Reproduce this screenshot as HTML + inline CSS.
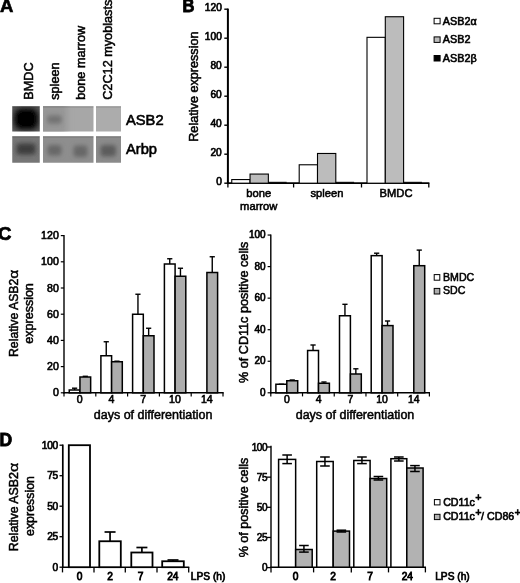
<!DOCTYPE html>
<html><head><meta charset="utf-8"><title>Figure</title>
<style>html,body{margin:0;padding:0;background:#fff}svg{display:block}text{font-family:"Liberation Sans", Arial, sans-serif;fill:#000}</style>
</head><body>
<svg width="520" height="583" viewBox="0 0 520 583">
<defs>
<filter id="b2" x="-50%" y="-50%" width="200%" height="200%"><feGaussianBlur stdDeviation="2.2"/></filter>
<filter id="b3" x="-50%" y="-50%" width="200%" height="200%"><feGaussianBlur stdDeviation="3"/></filter>
<filter id="b1" x="-10%" y="-10%" width="120%" height="120%"><feGaussianBlur stdDeviation="0.5"/></filter>
<clipPath id="c11"><rect x="12.25" y="106.25" width="27.5" height="25.25"/></clipPath>
<clipPath id="c12"><rect x="43" y="106.25" width="50.5" height="25.25"/></clipPath>
<clipPath id="c13"><rect x="96" y="106.25" width="25" height="25.25"/></clipPath>
<clipPath id="c21"><rect x="12.25" y="136.25" width="27.5" height="26.5"/></clipPath>
<clipPath id="c22"><rect x="43" y="136.25" width="50.5" height="26.5"/></clipPath>
<clipPath id="c23"><rect x="96" y="136.25" width="25" height="26.5"/></clipPath>
</defs>
<rect width="520" height="583" fill="#fff"/>

<text x="0" y="12.4" font-size="18.5" text-anchor="start" font-weight="bold" stroke="#000" stroke-width="0.6">A</text>
<text transform="translate(182.6,12.4) scale(0.94,1)" font-size="17.6" font-weight="bold" stroke="#000" stroke-width="0.85">B</text>
<text x="-2" y="240.4" font-size="18.6" text-anchor="start" font-weight="bold" stroke="#000" stroke-width="0.7">C</text>
<text x="-0.6" y="445.6" font-size="17.5" text-anchor="start" font-weight="bold" stroke="#000" stroke-width="0.8">D</text>
<text x="32.9" y="99.8" font-size="12.7" text-anchor="start" stroke="#000" stroke-width="0.5" transform="rotate(-90 32.9 99.8)">BMDC</text>
<text x="58.8" y="99.8" font-size="12.7" text-anchor="start" stroke="#000" stroke-width="0.5" transform="rotate(-90 58.8 99.8)">spleen</text>
<text x="85.3" y="99.8" font-size="12.7" text-anchor="start" stroke="#000" stroke-width="0.5" transform="rotate(-90 85.3 99.8)">bone marrow</text>
<text x="112.4" y="99.8" font-size="12.7" text-anchor="start" stroke="#000" stroke-width="0.5" transform="rotate(-90 112.4 99.8)">C2C12 myoblasts</text>
<g filter="url(#b1)">
<g clip-path="url(#c11)"><rect x="12" y="106" width="28" height="26" fill="#5e5e5e"/><rect x="14.5" y="108.5" width="23.5" height="21" rx="6" fill="#000" filter="url(#b3)"/><rect x="17.5" y="112" width="17" height="14" rx="5" fill="#000" filter="url(#b2)"/></g>
<g clip-path="url(#c12)"><rect x="43" y="106" width="51" height="26" fill="#a7a7a7"/><rect x="38" y="102" width="29" height="34" fill="#969696" filter="url(#b3)"/><rect x="47.5" y="115.5" width="14" height="8" rx="2" fill="#727272" filter="url(#b2)"/></g>
<g clip-path="url(#c13)"><rect x="96" y="106" width="25" height="26" fill="#acacac"/></g>
<g clip-path="url(#c21)"><rect x="12" y="136" width="28" height="27" fill="#767676"/><rect x="16.5" y="143.5" width="19" height="11" rx="3" fill="#3c3c3c" filter="url(#b2)"/></g>
<g clip-path="url(#c22)"><rect x="43" y="136" width="51" height="27" fill="#8e8e8e"/><rect x="47.5" y="145" width="14" height="10.5" rx="3" fill="#686868" filter="url(#b2)"/><rect x="73.5" y="145.5" width="14" height="11.5" rx="3" fill="#686868" filter="url(#b2)"/></g>
<g clip-path="url(#c23)"><rect x="96" y="136" width="25" height="27" fill="#8b8b8b"/><rect x="100.5" y="145" width="15.5" height="11.5" rx="3" fill="#5c5c5c" filter="url(#b2)"/></g>
<rect x="12.25" y="106.25" width="27.5" height="1.2" fill="#000" opacity="0.18"/>
<rect x="12.25" y="136.25" width="27.5" height="1.2" fill="#000" opacity="0.18"/>
<rect x="43" y="106.25" width="50.5" height="1.2" fill="#000" opacity="0.18"/>
<rect x="43" y="136.25" width="50.5" height="1.2" fill="#000" opacity="0.18"/>
<rect x="96" y="106.25" width="25" height="1.2" fill="#000" opacity="0.18"/>
<rect x="96" y="136.25" width="25" height="1.2" fill="#000" opacity="0.18"/>
</g>
<text x="126" y="124.75" font-size="14.7" text-anchor="start" stroke="#000" stroke-width="0.6">ASB2</text>
<text x="126" y="154" font-size="14.7" text-anchor="start" stroke="#000" stroke-width="0.6">Arbp</text>
<line x1="227.9" y1="8.6" x2="227.9" y2="184.1" stroke="#000" stroke-width="2.0"/>
<line x1="226.9" y1="183.2" x2="429.4" y2="183.2" stroke="#000" stroke-width="1.8"/>
<line x1="224.3" y1="183.2" x2="227.9" y2="183.2" stroke="#000" stroke-width="1.4"/>
<text x="221.8" y="185.2" font-size="10.2" text-anchor="end" stroke="#000" stroke-width="0.65">0</text>
<line x1="224.3" y1="154.2" x2="227.9" y2="154.2" stroke="#000" stroke-width="1.4"/>
<text x="221.8" y="156.2" font-size="10.2" text-anchor="end" stroke="#000" stroke-width="0.65">20</text>
<line x1="224.3" y1="125.19999999999999" x2="227.9" y2="125.19999999999999" stroke="#000" stroke-width="1.4"/>
<text x="221.8" y="127.19999999999999" font-size="10.2" text-anchor="end" stroke="#000" stroke-width="0.65">40</text>
<line x1="224.3" y1="96.19999999999999" x2="227.9" y2="96.19999999999999" stroke="#000" stroke-width="1.4"/>
<text x="221.8" y="98.19999999999999" font-size="10.2" text-anchor="end" stroke="#000" stroke-width="0.65">60</text>
<line x1="224.3" y1="67.19999999999999" x2="227.9" y2="67.19999999999999" stroke="#000" stroke-width="1.4"/>
<text x="221.8" y="69.19999999999999" font-size="10.2" text-anchor="end" stroke="#000" stroke-width="0.65">80</text>
<line x1="224.3" y1="38.19999999999999" x2="227.9" y2="38.19999999999999" stroke="#000" stroke-width="1.4"/>
<text x="221.8" y="40.19999999999999" font-size="10.2" text-anchor="end" stroke="#000" stroke-width="0.65">100</text>
<line x1="224.3" y1="9.199999999999989" x2="227.9" y2="9.199999999999989" stroke="#000" stroke-width="1.4"/>
<text x="221.8" y="11.199999999999989" font-size="10.2" text-anchor="end" stroke="#000" stroke-width="0.65">120</text>
<line x1="227.9" y1="183.2" x2="227.9" y2="187.5" stroke="#000" stroke-width="1.3"/>
<line x1="293.6" y1="183.2" x2="293.6" y2="187.5" stroke="#000" stroke-width="1.3"/>
<line x1="361.5" y1="183.2" x2="361.5" y2="187.5" stroke="#000" stroke-width="1.3"/>
<line x1="428.8" y1="183.2" x2="428.8" y2="187.5" stroke="#000" stroke-width="1.3"/>
<text x="198" y="86.6" font-size="12.65" text-anchor="middle" stroke="#000" stroke-width="0.5" transform="rotate(-90 198 86.6)">Relative expression</text>
<rect x="231.75" y="179.57" width="18.30" height="3.62" fill="#fff" stroke="#000" stroke-width="1.1"/>
<rect x="250.05" y="174.06" width="18.30" height="9.13" fill="#bcbcbc" stroke="#000" stroke-width="1.1"/>
<line x1="268.35" y1="182.29999999999998" x2="286.65" y2="182.29999999999998" stroke="#000" stroke-width="1.0"/>
<rect x="299.20" y="164.78" width="18.30" height="18.41" fill="#fff" stroke="#000" stroke-width="1.1"/>
<rect x="317.50" y="153.47" width="18.30" height="29.72" fill="#bcbcbc" stroke="#000" stroke-width="1.1"/>
<line x1="335.8" y1="182.29999999999998" x2="354.1" y2="182.29999999999998" stroke="#000" stroke-width="1.0"/>
<rect x="367.00" y="37.33" width="18.30" height="145.87" fill="#fff" stroke="#000" stroke-width="1.1"/>
<rect x="385.30" y="16.74" width="18.30" height="166.46" fill="#bcbcbc" stroke="#000" stroke-width="1.1"/>
<line x1="403.6" y1="182.29999999999998" x2="421.9" y2="182.29999999999998" stroke="#000" stroke-width="1.0"/>
<text x="258.75" y="197" font-size="11.2" text-anchor="middle" stroke="#000" stroke-width="0.55">bone</text>
<text x="258.75" y="210.2" font-size="11.2" text-anchor="middle" stroke="#000" stroke-width="0.55">marrow</text>
<text x="327" y="196.5" font-size="11.2" text-anchor="middle" stroke="#000" stroke-width="0.55">spleen</text>
<text x="396" y="196.5" font-size="11.2" text-anchor="middle" stroke="#000" stroke-width="0.55">BMDC</text>
<rect x="434.10" y="18.30" width="6.00" height="5.50" fill="#fff" stroke="#000" stroke-width="1.0"/>
<text x="442.8" y="24.5" font-size="10.8" text-anchor="start" stroke="#000" stroke-width="0.6">ASB2α</text>
<rect x="434.10" y="36.90" width="6.00" height="5.50" fill="#bcbcbc" stroke="#000" stroke-width="1.0"/>
<text x="442.8" y="43.10000000000001" font-size="10.8" text-anchor="start" stroke="#000" stroke-width="0.6">ASB2</text>
<rect x="434.10" y="55.50" width="6.00" height="5.50" fill="#000" stroke="#000" stroke-width="1.0"/>
<text x="442.8" y="61.7" font-size="10.8" text-anchor="start" stroke="#000" stroke-width="0.6">ASB2β</text>
<line x1="64.0" y1="235" x2="64.0" y2="393.5" stroke="#000" stroke-width="1.4"/>
<line x1="63.3" y1="392.8" x2="223.7" y2="392.8" stroke="#000" stroke-width="1.5"/>
<line x1="60.8" y1="392.8" x2="64.0" y2="392.8" stroke="#000" stroke-width="1.2"/>
<text x="58.8" y="396.3" font-size="10.6" text-anchor="end" stroke="#000" stroke-width="0.6">0</text>
<line x1="60.8" y1="366.6" x2="64.0" y2="366.6" stroke="#000" stroke-width="1.2"/>
<text x="58.8" y="370.1" font-size="10.6" text-anchor="end" stroke="#000" stroke-width="0.6">20</text>
<line x1="60.8" y1="340.40000000000003" x2="64.0" y2="340.40000000000003" stroke="#000" stroke-width="1.2"/>
<text x="58.8" y="343.90000000000003" font-size="10.6" text-anchor="end" stroke="#000" stroke-width="0.6">40</text>
<line x1="60.8" y1="314.20000000000005" x2="64.0" y2="314.20000000000005" stroke="#000" stroke-width="1.2"/>
<text x="58.8" y="317.70000000000005" font-size="10.6" text-anchor="end" stroke="#000" stroke-width="0.6">60</text>
<line x1="60.8" y1="288.0" x2="64.0" y2="288.0" stroke="#000" stroke-width="1.2"/>
<text x="58.8" y="291.5" font-size="10.6" text-anchor="end" stroke="#000" stroke-width="0.6">80</text>
<line x1="60.8" y1="261.80000000000007" x2="64.0" y2="261.80000000000007" stroke="#000" stroke-width="1.2"/>
<text x="58.8" y="265.30000000000007" font-size="10.6" text-anchor="end" stroke="#000" stroke-width="0.6">100</text>
<line x1="60.8" y1="235.60000000000002" x2="64.0" y2="235.60000000000002" stroke="#000" stroke-width="1.2"/>
<text x="58.8" y="239.10000000000002" font-size="10.6" text-anchor="end" stroke="#000" stroke-width="0.6">120</text>
<line x1="64.0" y1="392.8" x2="64.0" y2="396.40000000000003" stroke="#000" stroke-width="1.2"/>
<line x1="95.8" y1="392.8" x2="95.8" y2="396.40000000000003" stroke="#000" stroke-width="1.2"/>
<line x1="127.6" y1="392.8" x2="127.6" y2="396.40000000000003" stroke="#000" stroke-width="1.2"/>
<line x1="159.4" y1="392.8" x2="159.4" y2="396.40000000000003" stroke="#000" stroke-width="1.2"/>
<line x1="191.2" y1="392.8" x2="191.2" y2="396.40000000000003" stroke="#000" stroke-width="1.2"/>
<line x1="223.0" y1="392.8" x2="223.0" y2="396.40000000000003" stroke="#000" stroke-width="1.2"/>
<text x="79.60000000000001" y="403.2" font-size="10.6" text-anchor="middle" stroke="#000" stroke-width="0.6">0</text>
<text x="111.39999999999999" y="403.2" font-size="10.6" text-anchor="middle" stroke="#000" stroke-width="0.6">4</text>
<text x="143.2" y="403.2" font-size="10.6" text-anchor="middle" stroke="#000" stroke-width="0.6">7</text>
<text x="175.0" y="403.2" font-size="10.6" text-anchor="middle" stroke="#000" stroke-width="0.6">10</text>
<text x="206.79999999999998" y="403.2" font-size="10.6" text-anchor="middle" stroke="#000" stroke-width="0.6">14</text>
<text x="17.8" y="278.7" font-size="12.25" text-anchor="end" stroke="#000" stroke-width="0.5" transform="rotate(-90 17.8 278.7)">Relative ASB2</text>
<text transform="translate(17.8,278.7) rotate(-90) scale(1.27,1)" font-size="12.25" stroke="#000" stroke-width="0.4">α</text>
<text x="33.3" y="313.4" font-size="12.5" text-anchor="middle" stroke="#000" stroke-width="0.5" transform="rotate(-90 33.3 313.4)">expression</text>
<text x="153.1" y="419.2" font-size="12.5" text-anchor="middle" stroke="#000" stroke-width="0.5">days of differentiation</text>
<line x1="74.6" y1="388.2" x2="74.6" y2="390" stroke="#000" stroke-width="1.4"/>
<line x1="72.0" y1="388.2" x2="77.19999999999999" y2="388.2" stroke="#000" stroke-width="1.4"/>
<rect x="69.25" y="390.00" width="10.70" height="2.80" fill="#fff" stroke="#000" stroke-width="1.5"/>
<line x1="85.3" y1="376.3" x2="85.3" y2="377" stroke="#000" stroke-width="1.4"/>
<line x1="82.7" y1="376.3" x2="87.89999999999999" y2="376.3" stroke="#000" stroke-width="1.4"/>
<rect x="79.95" y="377.00" width="10.70" height="15.80" fill="#adadad" stroke="#000" stroke-width="1.5"/>
<line x1="106.25" y1="341.75" x2="106.25" y2="355.75" stroke="#000" stroke-width="1.4"/>
<line x1="103.65" y1="341.75" x2="108.85" y2="341.75" stroke="#000" stroke-width="1.4"/>
<rect x="100.90" y="355.75" width="10.70" height="37.05" fill="#fff" stroke="#000" stroke-width="1.5"/>
<line x1="116.95" y1="361.2" x2="116.95" y2="361.75" stroke="#000" stroke-width="1.4"/>
<line x1="114.35000000000001" y1="361.2" x2="119.55" y2="361.2" stroke="#000" stroke-width="1.4"/>
<rect x="111.60" y="361.75" width="10.70" height="31.05" fill="#adadad" stroke="#000" stroke-width="1.5"/>
<line x1="137.95" y1="294.25" x2="137.95" y2="314.25" stroke="#000" stroke-width="1.4"/>
<line x1="135.35" y1="294.25" x2="140.54999999999998" y2="294.25" stroke="#000" stroke-width="1.4"/>
<rect x="132.60" y="314.25" width="10.70" height="78.55" fill="#fff" stroke="#000" stroke-width="1.5"/>
<line x1="148.64999999999998" y1="328.25" x2="148.64999999999998" y2="335.75" stroke="#000" stroke-width="1.4"/>
<line x1="146.04999999999998" y1="328.25" x2="151.24999999999997" y2="328.25" stroke="#000" stroke-width="1.4"/>
<rect x="143.30" y="335.75" width="10.70" height="57.05" fill="#adadad" stroke="#000" stroke-width="1.5"/>
<line x1="169.75" y1="258.75" x2="169.75" y2="264" stroke="#000" stroke-width="1.4"/>
<line x1="167.15" y1="258.75" x2="172.35" y2="258.75" stroke="#000" stroke-width="1.4"/>
<rect x="164.40" y="264.00" width="10.70" height="128.80" fill="#fff" stroke="#000" stroke-width="1.5"/>
<line x1="180.45" y1="268.25" x2="180.45" y2="276.25" stroke="#000" stroke-width="1.4"/>
<line x1="177.85" y1="268.25" x2="183.04999999999998" y2="268.25" stroke="#000" stroke-width="1.4"/>
<rect x="175.10" y="276.25" width="10.70" height="116.55" fill="#adadad" stroke="#000" stroke-width="1.5"/>
<line x1="212.25" y1="256.75" x2="212.25" y2="272.5" stroke="#000" stroke-width="1.4"/>
<line x1="209.65" y1="256.75" x2="214.85" y2="256.75" stroke="#000" stroke-width="1.4"/>
<rect x="206.90" y="272.50" width="10.70" height="120.30" fill="#adadad" stroke="#000" stroke-width="1.5"/>
<line x1="270.8" y1="234.4" x2="270.8" y2="393.5" stroke="#000" stroke-width="1.4"/>
<line x1="270.1" y1="392.8" x2="430" y2="392.8" stroke="#000" stroke-width="1.5"/>
<line x1="267.6" y1="392.8" x2="270.8" y2="392.8" stroke="#000" stroke-width="1.2"/>
<text x="265.6" y="395.90000000000003" font-size="10" text-anchor="end" stroke="#000" stroke-width="0.65">0</text>
<line x1="267.6" y1="361.25" x2="270.8" y2="361.25" stroke="#000" stroke-width="1.2"/>
<text x="265.6" y="364.35" font-size="10" text-anchor="end" stroke="#000" stroke-width="0.65">20</text>
<line x1="267.6" y1="329.7" x2="270.8" y2="329.7" stroke="#000" stroke-width="1.2"/>
<text x="265.6" y="332.8" font-size="10" text-anchor="end" stroke="#000" stroke-width="0.65">40</text>
<line x1="267.6" y1="298.15" x2="270.8" y2="298.15" stroke="#000" stroke-width="1.2"/>
<text x="265.6" y="301.25" font-size="10" text-anchor="end" stroke="#000" stroke-width="0.65">60</text>
<line x1="267.6" y1="266.6" x2="270.8" y2="266.6" stroke="#000" stroke-width="1.2"/>
<text x="265.6" y="269.70000000000005" font-size="10" text-anchor="end" stroke="#000" stroke-width="0.65">80</text>
<line x1="267.6" y1="235.05" x2="270.8" y2="235.05" stroke="#000" stroke-width="1.2"/>
<text x="265.6" y="238.15" font-size="10" text-anchor="end" stroke="#000" stroke-width="0.65">100</text>
<line x1="270.8" y1="392.8" x2="270.8" y2="396.40000000000003" stroke="#000" stroke-width="1.2"/>
<line x1="302.52" y1="392.8" x2="302.52" y2="396.40000000000003" stroke="#000" stroke-width="1.2"/>
<line x1="334.24" y1="392.8" x2="334.24" y2="396.40000000000003" stroke="#000" stroke-width="1.2"/>
<line x1="365.96000000000004" y1="392.8" x2="365.96000000000004" y2="396.40000000000003" stroke="#000" stroke-width="1.2"/>
<line x1="397.68" y1="392.8" x2="397.68" y2="396.40000000000003" stroke="#000" stroke-width="1.2"/>
<line x1="429.4" y1="392.8" x2="429.4" y2="396.40000000000003" stroke="#000" stroke-width="1.2"/>
<text x="286.96" y="403.2" font-size="10.4" text-anchor="middle" stroke="#000" stroke-width="0.6">0</text>
<text x="318.68" y="403.2" font-size="10.4" text-anchor="middle" stroke="#000" stroke-width="0.6">4</text>
<text x="350.40000000000003" y="403.2" font-size="10.4" text-anchor="middle" stroke="#000" stroke-width="0.6">7</text>
<text x="382.12000000000006" y="403.2" font-size="10.4" text-anchor="middle" stroke="#000" stroke-width="0.6">10</text>
<text x="413.84" y="403.2" font-size="10.4" text-anchor="middle" stroke="#000" stroke-width="0.6">14</text>
<text x="248.3" y="312.3" font-size="12.6" text-anchor="middle" stroke="#000" stroke-width="0.5" transform="rotate(-90 248.3 312.3)">% of CD11c positive cells</text>
<text x="355" y="419.2" font-size="12.5" text-anchor="middle" stroke="#000" stroke-width="0.5">days of differentiation</text>
<line x1="281.34999999999997" y1="384.25" x2="281.34999999999997" y2="384.25" stroke="#000" stroke-width="1.4"/>
<line x1="278.74999999999994" y1="384.25" x2="283.95" y2="384.25" stroke="#000" stroke-width="1.4"/>
<rect x="275.90" y="384.25" width="10.90" height="8.55" fill="#fff" stroke="#000" stroke-width="1.5"/>
<line x1="292.25" y1="380" x2="292.25" y2="380.75" stroke="#000" stroke-width="1.4"/>
<line x1="289.65" y1="380" x2="294.85" y2="380" stroke="#000" stroke-width="1.4"/>
<rect x="286.80" y="380.75" width="10.90" height="12.05" fill="#adadad" stroke="#000" stroke-width="1.5"/>
<line x1="313.05" y1="345" x2="313.05" y2="350.5" stroke="#000" stroke-width="1.4"/>
<line x1="310.45" y1="345" x2="315.65000000000003" y2="345" stroke="#000" stroke-width="1.4"/>
<rect x="307.60" y="350.50" width="10.90" height="42.30" fill="#fff" stroke="#000" stroke-width="1.5"/>
<line x1="323.95000000000005" y1="382" x2="323.95000000000005" y2="383.25" stroke="#000" stroke-width="1.4"/>
<line x1="321.35" y1="382" x2="326.55000000000007" y2="382" stroke="#000" stroke-width="1.4"/>
<rect x="318.50" y="383.25" width="10.90" height="9.55" fill="#adadad" stroke="#000" stroke-width="1.5"/>
<line x1="344.95" y1="304.3" x2="344.95" y2="315.75" stroke="#000" stroke-width="1.4"/>
<line x1="342.34999999999997" y1="304.3" x2="347.55" y2="304.3" stroke="#000" stroke-width="1.4"/>
<rect x="339.50" y="315.75" width="10.90" height="77.05" fill="#fff" stroke="#000" stroke-width="1.5"/>
<line x1="355.85" y1="368.8" x2="355.85" y2="374" stroke="#000" stroke-width="1.4"/>
<line x1="353.25" y1="368.8" x2="358.45000000000005" y2="368.8" stroke="#000" stroke-width="1.4"/>
<rect x="350.40" y="374.00" width="10.90" height="18.80" fill="#adadad" stroke="#000" stroke-width="1.5"/>
<line x1="376.65" y1="253.2" x2="376.65" y2="255.65" stroke="#000" stroke-width="1.4"/>
<line x1="374.04999999999995" y1="253.2" x2="379.25" y2="253.2" stroke="#000" stroke-width="1.4"/>
<rect x="371.20" y="255.65" width="10.90" height="137.15" fill="#fff" stroke="#000" stroke-width="1.5"/>
<line x1="387.55" y1="321" x2="387.55" y2="325.6" stroke="#000" stroke-width="1.4"/>
<line x1="384.95" y1="321" x2="390.15000000000003" y2="321" stroke="#000" stroke-width="1.4"/>
<rect x="382.10" y="325.60" width="10.90" height="67.20" fill="#adadad" stroke="#000" stroke-width="1.5"/>
<line x1="419.25" y1="250.1" x2="419.25" y2="265.7" stroke="#000" stroke-width="1.4"/>
<line x1="416.65" y1="250.1" x2="421.85" y2="250.1" stroke="#000" stroke-width="1.4"/>
<rect x="413.80" y="265.70" width="10.90" height="127.10" fill="#adadad" stroke="#000" stroke-width="1.5"/>
<rect x="434.20" y="274.60" width="5.60" height="5.60" fill="#fff" stroke="#000" stroke-width="1.0"/>
<text x="443" y="280.6" font-size="10.6" text-anchor="start" stroke="#000" stroke-width="0.55">BMDC</text>
<rect x="434.20" y="288.40" width="5.60" height="5.60" fill="#adadad" stroke="#000" stroke-width="1.0"/>
<text x="443" y="294.40000000000003" font-size="10.6" text-anchor="start" stroke="#000" stroke-width="0.55">SDC</text>
<line x1="62.8" y1="444.5" x2="62.8" y2="568.0" stroke="#000" stroke-width="1.7"/>
<line x1="62.0" y1="567.2" x2="189.3" y2="567.2" stroke="#000" stroke-width="1.6"/>
<line x1="59.5" y1="567.2" x2="62.8" y2="567.2" stroke="#000" stroke-width="1.3"/>
<text x="58.0" y="570.7" font-size="10.2" text-anchor="end" stroke="#000" stroke-width="0.65" letter-spacing="-0.25">0</text>
<line x1="59.5" y1="536.7" x2="62.8" y2="536.7" stroke="#000" stroke-width="1.3"/>
<text x="58.0" y="540.2" font-size="10.2" text-anchor="end" stroke="#000" stroke-width="0.65" letter-spacing="-0.25">25</text>
<line x1="59.5" y1="506.20000000000005" x2="62.8" y2="506.20000000000005" stroke="#000" stroke-width="1.3"/>
<text x="58.0" y="509.70000000000005" font-size="10.2" text-anchor="end" stroke="#000" stroke-width="0.65" letter-spacing="-0.25">50</text>
<line x1="59.5" y1="475.70000000000005" x2="62.8" y2="475.70000000000005" stroke="#000" stroke-width="1.3"/>
<text x="58.0" y="479.20000000000005" font-size="10.2" text-anchor="end" stroke="#000" stroke-width="0.65" letter-spacing="-0.25">75</text>
<line x1="59.5" y1="445.20000000000005" x2="62.8" y2="445.20000000000005" stroke="#000" stroke-width="1.3"/>
<text x="58.0" y="448.70000000000005" font-size="10.2" text-anchor="end" stroke="#000" stroke-width="0.65" letter-spacing="-0.25">100</text>
<line x1="62.5" y1="567.2" x2="62.5" y2="572.4000000000001" stroke="#000" stroke-width="1.3"/>
<line x1="94" y1="567.2" x2="94" y2="572.4000000000001" stroke="#000" stroke-width="1.3"/>
<line x1="125.3" y1="567.2" x2="125.3" y2="572.4000000000001" stroke="#000" stroke-width="1.3"/>
<line x1="157" y1="567.2" x2="157" y2="572.4000000000001" stroke="#000" stroke-width="1.3"/>
<line x1="188.7" y1="567.2" x2="188.7" y2="572.4000000000001" stroke="#000" stroke-width="1.3"/>
<text x="79.5" y="580.1" font-size="10.2" text-anchor="middle" stroke="#000" stroke-width="0.8">0</text>
<text x="110" y="580.1" font-size="10.2" text-anchor="middle" stroke="#000" stroke-width="0.8">2</text>
<text x="140.7" y="580.1" font-size="10.2" text-anchor="middle" stroke="#000" stroke-width="0.8">7</text>
<text x="172.8" y="580.1" font-size="10.2" text-anchor="middle" stroke="#000" stroke-width="0.8">24</text>
<text x="190.8" y="580.1" font-size="10.2" text-anchor="start" stroke="#000" stroke-width="0.7">LPS (h)</text>
<text x="17.7" y="472" font-size="12.4" text-anchor="end" stroke="#000" stroke-width="0.5" transform="rotate(-90 17.7 472)">Relative ASB2</text>
<text transform="translate(17.7,472) rotate(-90) scale(1.27,1)" font-size="12.4" stroke="#000" stroke-width="0.4">α</text>
<text x="33.5" y="506" font-size="12.4" text-anchor="middle" stroke="#000" stroke-width="0.5" transform="rotate(-90 33.5 506)">expression</text>
<rect x="68.80" y="445.20" width="21.20" height="122.00" fill="#fff" stroke="#000" stroke-width="1.8"/>
<line x1="110.05" y1="532" x2="110.05" y2="541.25" stroke="#000" stroke-width="1.7"/>
<line x1="104.55" y1="532" x2="115.55" y2="532" stroke="#000" stroke-width="1.7"/>
<rect x="99.30" y="541.25" width="21.50" height="25.95" fill="#fff" stroke="#000" stroke-width="1.8"/>
<line x1="141.9" y1="547.5" x2="141.9" y2="552.5" stroke="#000" stroke-width="1.7"/>
<line x1="136.4" y1="547.5" x2="147.4" y2="547.5" stroke="#000" stroke-width="1.7"/>
<rect x="131.30" y="552.50" width="21.20" height="14.70" fill="#fff" stroke="#000" stroke-width="1.8"/>
<line x1="173.0" y1="560" x2="173.0" y2="561.25" stroke="#000" stroke-width="1.7"/>
<line x1="167.5" y1="560" x2="178.5" y2="560" stroke="#000" stroke-width="1.7"/>
<rect x="162.20" y="561.25" width="21.60" height="5.95" fill="#fff" stroke="#000" stroke-width="1.8"/>
<line x1="271" y1="445.8" x2="271" y2="567.9000000000001" stroke="#000" stroke-width="1.4"/>
<line x1="270.3" y1="567.2" x2="426" y2="567.2" stroke="#000" stroke-width="1.4"/>
<line x1="267" y1="567.6" x2="271" y2="567.6" stroke="#000" stroke-width="1.3"/>
<text x="267.3" y="571.2" font-size="10.0" text-anchor="end" stroke="#000" stroke-width="0.6" letter-spacing="-0.35">0</text>
<line x1="267" y1="537.45" x2="271" y2="537.45" stroke="#000" stroke-width="1.3"/>
<text x="267.3" y="541.0500000000001" font-size="10.0" text-anchor="end" stroke="#000" stroke-width="0.6" letter-spacing="-0.35">25</text>
<line x1="267" y1="507.3" x2="271" y2="507.3" stroke="#000" stroke-width="1.3"/>
<text x="267.3" y="510.90000000000003" font-size="10.0" text-anchor="end" stroke="#000" stroke-width="0.6" letter-spacing="-0.35">50</text>
<line x1="267" y1="477.15000000000003" x2="271" y2="477.15000000000003" stroke="#000" stroke-width="1.3"/>
<text x="267.3" y="480.75000000000006" font-size="10.0" text-anchor="end" stroke="#000" stroke-width="0.6" letter-spacing="-0.35">75</text>
<line x1="267" y1="447.0" x2="271" y2="447.0" stroke="#000" stroke-width="1.3"/>
<text x="267.3" y="450.6" font-size="10.0" text-anchor="end" stroke="#000" stroke-width="0.6" letter-spacing="-0.35">100</text>
<line x1="271" y1="567.2" x2="271" y2="572.4000000000001" stroke="#000" stroke-width="1.3"/>
<line x1="313.6" y1="567.2" x2="313.6" y2="572.4000000000001" stroke="#000" stroke-width="1.3"/>
<line x1="351.3" y1="567.2" x2="351.3" y2="572.4000000000001" stroke="#000" stroke-width="1.3"/>
<line x1="388.5" y1="567.2" x2="388.5" y2="572.4000000000001" stroke="#000" stroke-width="1.3"/>
<line x1="425.4" y1="567.2" x2="425.4" y2="572.4000000000001" stroke="#000" stroke-width="1.3"/>
<text x="295.6" y="580.3" font-size="10.2" text-anchor="middle" stroke="#000" stroke-width="0.8">0</text>
<text x="333.2" y="580.3" font-size="10.2" text-anchor="middle" stroke="#000" stroke-width="0.8">2</text>
<text x="370.2" y="580.3" font-size="10.2" text-anchor="middle" stroke="#000" stroke-width="0.8">7</text>
<text x="407.3" y="580.3" font-size="10.2" text-anchor="middle" stroke="#000" stroke-width="0.8">24</text>
<text x="435.2" y="580.3" font-size="10.2" text-anchor="start" stroke="#000" stroke-width="0.7">LPS (h)</text>
<text x="247.9" y="507.5" font-size="12.55" text-anchor="middle" stroke="#000" stroke-width="0.5" transform="rotate(-90 247.9 507.5)">% of positive cells</text>
<rect x="278.60" y="459.40" width="17.05" height="107.80" fill="#fff" stroke="#000" stroke-width="1.5"/>
<rect x="295.65" y="549.50" width="16.55" height="17.70" fill="#b2b2b2" stroke="#000" stroke-width="1.5"/>
<line x1="287.125" y1="455" x2="287.125" y2="463.6" stroke="#000" stroke-width="1.5"/>
<line x1="282.325" y1="455" x2="291.925" y2="455" stroke="#000" stroke-width="1.5"/>
<line x1="282.325" y1="463.6" x2="291.925" y2="463.6" stroke="#000" stroke-width="1.5"/>
<line x1="303.92499999999995" y1="545.5" x2="303.92499999999995" y2="552.1" stroke="#000" stroke-width="1.5"/>
<line x1="299.12499999999994" y1="545.5" x2="308.72499999999997" y2="545.5" stroke="#000" stroke-width="1.5"/>
<line x1="299.12499999999994" y1="552.1" x2="308.72499999999997" y2="552.1" stroke="#000" stroke-width="1.5"/>
<rect x="316.70" y="461.50" width="16.50" height="105.70" fill="#fff" stroke="#000" stroke-width="1.5"/>
<rect x="333.20" y="531.10" width="16.30" height="36.10" fill="#b2b2b2" stroke="#000" stroke-width="1.5"/>
<line x1="324.95" y1="457" x2="324.95" y2="466" stroke="#000" stroke-width="1.5"/>
<line x1="320.15" y1="457" x2="329.75" y2="457" stroke="#000" stroke-width="1.5"/>
<line x1="320.15" y1="466" x2="329.75" y2="466" stroke="#000" stroke-width="1.5"/>
<line x1="341.35" y1="530.2" x2="341.35" y2="532.0" stroke="#000" stroke-width="1.5"/>
<line x1="336.55" y1="530.2" x2="346.15000000000003" y2="530.2" stroke="#000" stroke-width="1.5"/>
<line x1="336.55" y1="532.0" x2="346.15000000000003" y2="532.0" stroke="#000" stroke-width="1.5"/>
<rect x="353.80" y="460.50" width="16.30" height="106.70" fill="#fff" stroke="#000" stroke-width="1.5"/>
<rect x="370.10" y="478.50" width="16.60" height="88.70" fill="#b2b2b2" stroke="#000" stroke-width="1.5"/>
<line x1="361.95000000000005" y1="457" x2="361.95000000000005" y2="463.6" stroke="#000" stroke-width="1.5"/>
<line x1="357.15000000000003" y1="457" x2="366.75000000000006" y2="457" stroke="#000" stroke-width="1.5"/>
<line x1="357.15000000000003" y1="463.6" x2="366.75000000000006" y2="463.6" stroke="#000" stroke-width="1.5"/>
<line x1="378.4" y1="476.5" x2="378.4" y2="480" stroke="#000" stroke-width="1.5"/>
<line x1="373.59999999999997" y1="476.5" x2="383.2" y2="476.5" stroke="#000" stroke-width="1.5"/>
<line x1="373.59999999999997" y1="480" x2="383.2" y2="480" stroke="#000" stroke-width="1.5"/>
<rect x="390.90" y="458.70" width="15.90" height="108.50" fill="#fff" stroke="#000" stroke-width="1.5"/>
<rect x="406.80" y="468.00" width="16.30" height="99.20" fill="#b2b2b2" stroke="#000" stroke-width="1.5"/>
<line x1="398.85" y1="457" x2="398.85" y2="461" stroke="#000" stroke-width="1.5"/>
<line x1="394.05" y1="457" x2="403.65000000000003" y2="457" stroke="#000" stroke-width="1.5"/>
<line x1="394.05" y1="461" x2="403.65000000000003" y2="461" stroke="#000" stroke-width="1.5"/>
<line x1="414.95000000000005" y1="465.6" x2="414.95000000000005" y2="471.5" stroke="#000" stroke-width="1.5"/>
<line x1="410.15000000000003" y1="465.6" x2="419.75000000000006" y2="465.6" stroke="#000" stroke-width="1.5"/>
<line x1="410.15000000000003" y1="471.5" x2="419.75000000000006" y2="471.5" stroke="#000" stroke-width="1.5"/>
<rect x="434.40" y="499.60" width="5.60" height="5.30" fill="#fff" stroke="#000" stroke-width="1.0"/>
<text x="443.2" y="505.8" font-size="10.65" stroke="#000" stroke-width="0.6">CD11c</text>
<text x="475.3" y="501.4" font-size="10.8" font-weight="bold" stroke="#000" stroke-width="0.3">+</text>
<rect x="434.40" y="514.30" width="5.60" height="5.30" fill="#b2b2b2" stroke="#000" stroke-width="1.0"/>
<text x="443.2" y="520" font-size="10.65" stroke="#000" stroke-width="0.6">CD11c</text>
<text x="475.3" y="515.6" font-size="10.8" font-weight="bold" stroke="#000" stroke-width="0.3">+</text>
<text x="481.1" y="520" font-size="10.65" stroke="#000" stroke-width="0.6">/ CD86</text>
<text x="514.6" y="515.6" font-size="10.8" font-weight="bold" stroke="#000" stroke-width="0.3">+</text>
</svg>
</body></html>
